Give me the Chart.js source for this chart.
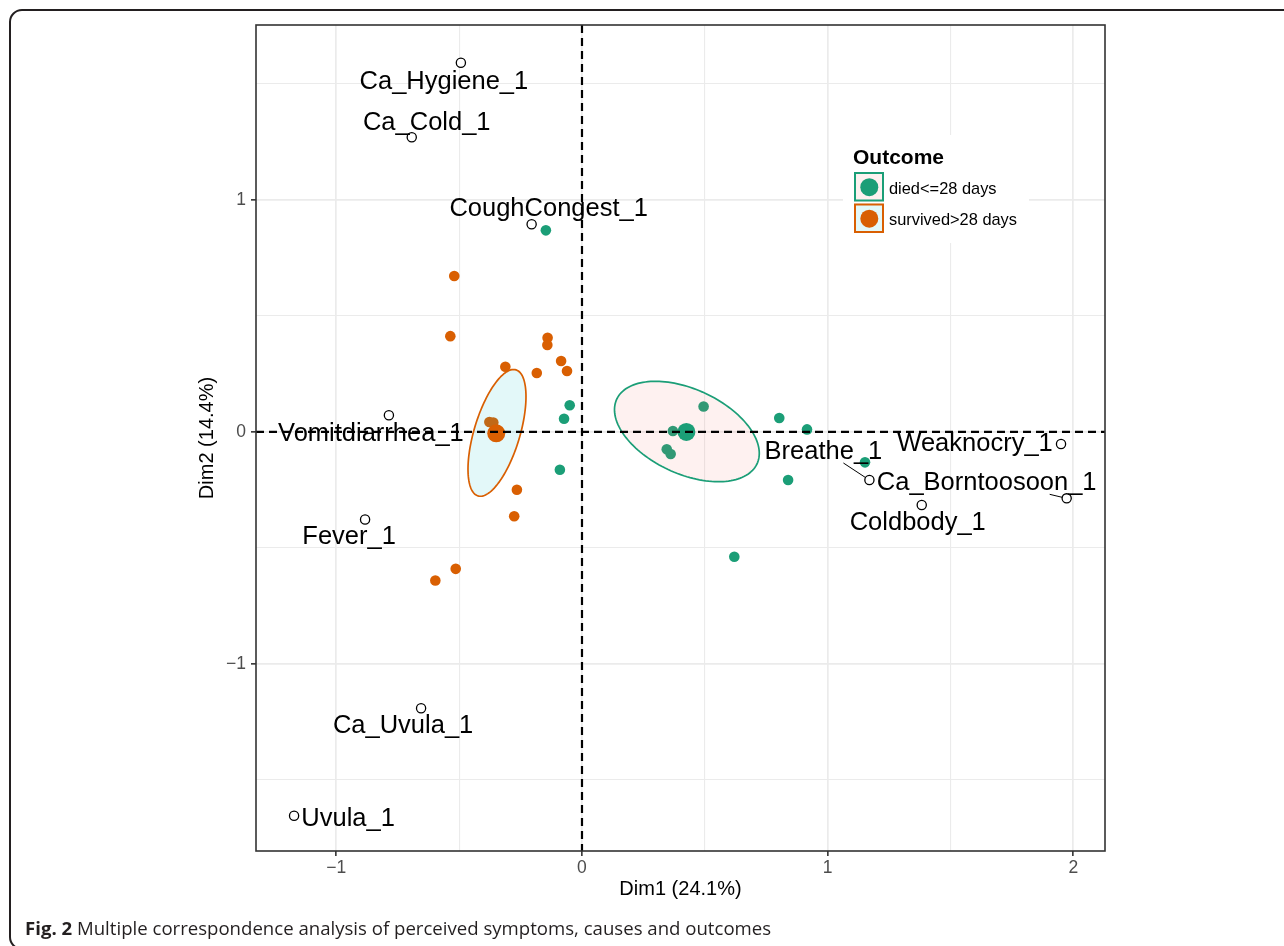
<!DOCTYPE html>
<html><head><meta charset="utf-8">
<script src="https://cdn.jsdelivr.net/npm/chart.js@4.4.1/dist/chart.umd.min.js"></script>
<style>
html,body{margin:0;padding:0;background:#fff;overflow:hidden;width:1284px;height:946px;}
#frame{position:absolute;left:9px;top:9px;width:1320px;height:941px;border:2px solid #231f20;border-radius:13px;box-sizing:border-box;}
#wrap{position:absolute;left:0;top:0;width:1284px;height:946px;}
#caption{position:absolute;left:25px;top:915px;font-family:"Open Sans",sans-serif;font-size:18.6px;line-height:25px;color:#231f20;white-space:nowrap;}
</style></head>
<body>
<div id="frame"></div>
<div id="wrap"><canvas id="c" width="1284" height="946"></canvas></div>
<div id="caption"><b>Fig. 2</b> Multiple correspondence analysis of perceived symptoms, causes and outcomes</div>
<script>
// ---- data ----
const xTickValues = [-1, 0, 1, 2];
const yTickValues = [-1, 0, 1];
const xTitle = 'Dim1 (24.1%)';
const yTitle = 'Dim2 (14.4%)';
const groupNames = ['died<=28 days', 'survived>28 days'];
const legendTitle = 'Outcome';

const diedX = [-0.147, -0.050, -0.073, -0.090, 0.495, 0.370, 0.345, 0.361, 0.803, 0.916, 0.839, 0.620, 1.152];
const diedY = [0.869, 0.115, 0.057, -0.163, 0.110, 0.004, -0.075, -0.095, 0.060, 0.011, -0.207, -0.538, -0.131];
const survX = [-0.520, -0.536, -0.140, -0.141, -0.085, -0.061, -0.184, -0.312, -0.377, -0.361, -0.265, -0.276, -0.514, -0.597];
const survY = [0.672, 0.413, 0.406, 0.375, 0.306, 0.263, 0.254, 0.281, 0.043, 0.041, -0.249, -0.363, -0.590, -0.640];
const diedCentroid = [0.425, 0.000];
const survCentroid = [-0.349, -0.006];

// confidence ellipses: centre and two conjugate semi-axis vectors (data units)
const diedEllipseCenter = [0.427, 0.002];
const diedEllipseAxisA = [0.2947, -0.0940];
const diedEllipseAxisB = [0.0, 0.1948];
const survEllipseCenter = [-0.346, -0.004];
const survEllipseAxisA = [0.0773, 0.2716];
const survEllipseAxisB = [0.0892, -0.0285];

const varNames = ['Ca_Hygiene_1', 'Ca_Cold_1', 'CoughCongest_1', 'Vomitdiarrhea_1', 'Fever_1', 'Ca_Uvula_1', 'Uvula_1', 'Breathe_1', 'Ca_Borntoosoon_1', 'Weaknocry_1', 'Coldbody_1'];
const varX = [-0.493, -0.693, -0.205, -0.786, -0.883, -0.655, -1.172, 1.170, 1.973, 1.950, 1.383];
const varY = [1.591, 1.270, 0.895, 0.072, -0.377, -1.191, -1.654, -0.207, -0.286, -0.052, -0.315];

// ---- styling / layout ----
const FONT = "'Liberation Sans', Arial, Helvetica, sans-serif";
const GREEN = '#1B9E77', ORANGE = '#D95F02';
const PINK_FILL = 'rgba(248,118,109,0.10)', CYAN_FILL = 'rgba(0,191,196,0.11)';
// label offsets in px relative to the point: [dx to text centre, dy to baseline]
const labelOffsets = [[-17,26],[15,-7],[17,-8],[-18,26],[-16,25],[-18,25],[54,10],[-46,-21],[-80,-8],[-86,7],[-4,25]];
const labelSegments = {7: [[-26,-17],[-4,-2.5]], 8: [[-17,-4],[-4.5,-1]]};

Chart.defaults.font.family = FONT;

const pts = (xs, ys) => xs.map((x, i) => ({x: x, y: ys[i]}));
const fmt = v => xTickValues.concat(yTickValues).includes(v) ? (v < 0 ? '\u2212' + Math.abs(v) : String(v)) : '';
const isMajor = v => Number.isInteger(Math.round(v * 1000) / 1000);

function ellipsePath(ctx, X, Y, c, A, B) {
  ctx.beginPath();
  for (let i = 0; i <= 144; i++) {
    const t = i / 144 * 2 * Math.PI;
    const x = c[0] + A[0] * Math.cos(t) + B[0] * Math.sin(t);
    const y = c[1] + A[1] * Math.cos(t) + B[1] * Math.sin(t);
    if (i === 0) ctx.moveTo(X.getPixelForValue(x), Y.getPixelForValue(y));
    else ctx.lineTo(X.getPixelForValue(x), Y.getPixelForValue(y));
  }
  ctx.closePath();
}

const mcaPlugin = {
  id: 'mca',
  beforeDatasetDraw(chart, args) {
    if (args.index !== 2) return;
    const ctx = chart.ctx, X = chart.scales.x, Y = chart.scales.y;
    ctx.save();
    ctx.lineWidth = 1.7;
    ellipsePath(ctx, X, Y, diedEllipseCenter, diedEllipseAxisA, diedEllipseAxisB);
    ctx.fillStyle = PINK_FILL; ctx.fill(); ctx.strokeStyle = GREEN; ctx.stroke();
    ellipsePath(ctx, X, Y, survEllipseCenter, survEllipseAxisA, survEllipseAxisB);
    ctx.fillStyle = CYAN_FILL; ctx.fill(); ctx.strokeStyle = ORANGE; ctx.stroke();
    ctx.restore();
  },
  afterDatasetsDraw(chart) {
    const ctx = chart.ctx, X = chart.scales.x, Y = chart.scales.y, a = chart.chartArea;
    ctx.save();
    // labels
    ctx.fillStyle = '#000';
    ctx.font = '25.5px ' + FONT;
    ctx.textAlign = 'center';
    ctx.textBaseline = 'alphabetic';
    varNames.forEach((n, i) => {
      const px = X.getPixelForValue(varX[i]), py = Y.getPixelForValue(varY[i]);
      const o = labelOffsets[i];
      ctx.fillText(n, px + o[0], py + o[1]);
      const s = labelSegments[i];
      if (s) {
        ctx.beginPath(); ctx.strokeStyle = '#000'; ctx.lineWidth = 1;
        ctx.moveTo(px + s[0][0], py + s[0][1]); ctx.lineTo(px + s[1][0], py + s[1][1]); ctx.stroke();
      }
    });
    // dashed axes
    ctx.save();
    ctx.beginPath(); ctx.rect(a.left, a.top, a.right - a.left, a.bottom - a.top); ctx.clip();
    ctx.strokeStyle = '#000'; ctx.lineWidth = 2.2; ctx.setLineDash([8, 5]);
    const x0 = X.getPixelForValue(0), y0 = Y.getPixelForValue(0);
    ctx.beginPath(); ctx.moveTo(x0, a.top); ctx.lineTo(x0, a.bottom); ctx.stroke();
    ctx.beginPath(); ctx.moveTo(a.left, y0); ctx.lineTo(a.right, y0); ctx.stroke();
    ctx.restore();
    // legend
    ctx.fillStyle = '#fff'; ctx.fillRect(843, 135, 186, 108);
    ctx.fillStyle = '#000'; ctx.textAlign = 'left';
    ctx.font = 'bold 21px ' + FONT; ctx.fillText(legendTitle, 853, 163.5);
    const keyCols = [GREEN, ORANGE], keyFills = [PINK_FILL, CYAN_FILL];
    groupNames.forEach((g, i) => {
      const top = 172 + i * 31.5;
      ctx.fillStyle = '#fff'; ctx.fillRect(854, top, 30, 29.5);
      ctx.fillStyle = keyFills[i]; ctx.fillRect(854, top, 30, 29.5);
      ctx.strokeStyle = keyCols[i]; ctx.lineWidth = 2; ctx.strokeRect(855, top + 1, 28, 27.5);
      ctx.beginPath(); ctx.arc(869.3, top + 15.2, 9, 0, 2 * Math.PI); ctx.fillStyle = keyCols[i]; ctx.fill();
      ctx.fillStyle = '#000'; ctx.font = '16.4px ' + FONT; ctx.fillText(g, 889, top + 21.5);
    });
    // panel border
    ctx.strokeStyle = '#333'; ctx.lineWidth = 1.6; ctx.setLineDash([]);
    ctx.strokeRect(a.left, a.top, a.right - a.left, a.bottom - a.top);
    ctx.restore();
  }
};

const gridCommon = {
  color: '#EBEBEB',
  lineWidth: c => (c.tick && isMajor(c.tick.value)) ? 1.7 : 1.1,
  tickColor: c => (c.tick && isMajor(c.tick.value)) ? '#333' : 'rgba(0,0,0,0)',
  tickWidth: 1.6,
  tickLength: 5
};

new Chart(document.getElementById('c'), {
  type: 'scatter',
  data: {
    datasets: [
      {label: groupNames[0], data: pts(diedX, diedY), backgroundColor: GREEN, borderWidth: 0, pointRadius: 5.3, order: 6},
      {label: groupNames[1], data: pts(survX, survY), backgroundColor: ORANGE, borderWidth: 0, pointRadius: 5.3, order: 5},
      {label: 'centroid died', data: [{x: diedCentroid[0], y: diedCentroid[1]}], backgroundColor: GREEN, borderWidth: 0, pointRadius: 9, order: 4},
      {label: 'centroid survived', data: [{x: survCentroid[0], y: survCentroid[1]}], backgroundColor: ORANGE, borderWidth: 0, pointRadius: 9, order: 3},
      {label: 'variables', data: pts(varX, varY), backgroundColor: '#fff', borderColor: '#000', borderWidth: 1.3, pointRadius: 4.6, order: 2}
    ]
  },
  options: {
    responsive: false,
    animation: false,
    events: [],
    layout: {padding: {left: 0, top: 25, right: 179, bottom: 0}},
    plugins: {legend: {display: false}, tooltip: {enabled: false}},
    scales: {
      x: {
        type: 'linear', min: -1.327, max: 2.129,
        afterFit: s => { s.height = 95; },
        border: {display: false},
        grid: gridCommon,
        ticks: {stepSize: 0.5, includeBounds: false, autoSkip: false, maxRotation: 0, padding: 2, color: '#4D4D4D', font: {size: 17.5}, callback: fmt},
        title: {display: true, text: xTitle, color: '#000', font: {size: 20}, padding: {top: 0, bottom: 45}}
      },
      y: {
        type: 'linear', min: -1.806, max: 1.754,
        afterFit: s => { s.width = 256; },
        border: {display: false},
        grid: gridCommon,
        ticks: {stepSize: 0.5, includeBounds: false, autoSkip: false, padding: 5, color: '#4D4D4D', font: {size: 17.5}, callback: fmt},
        title: {display: true, text: yTitle, color: '#000', font: {size: 20}, padding: {top: 195, bottom: 0}}
      }
    }
  },
  plugins: [mcaPlugin]
});
</script>
</body></html>
